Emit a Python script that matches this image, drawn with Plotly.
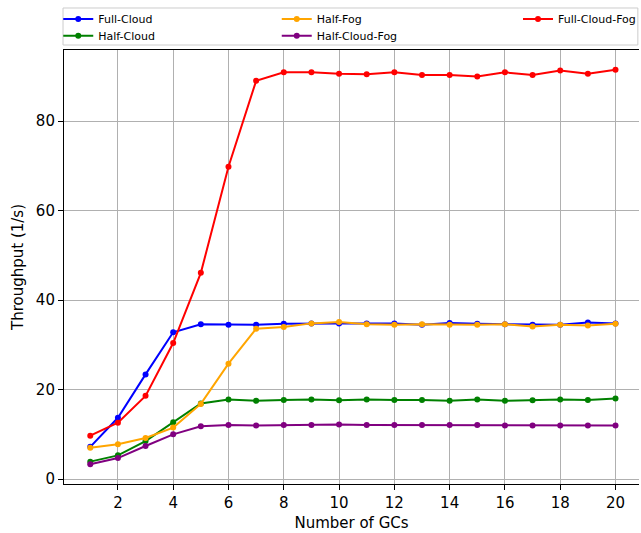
import plotly.graph_objects as go

# Number of GCs
gcs = list(range(1, 21))

full_cloud = [7.2, 13.7, 23.4, 32.8, 34.6, 34.5, 34.5, 34.7, 34.8, 34.8,
              34.8, 34.8, 34.5, 34.9, 34.7, 34.6, 34.5, 34.5, 35.0, 34.8]
half_cloud = [3.9, 5.3, 8.5, 12.7, 16.9, 17.8, 17.5, 17.7, 17.8, 17.6,
              17.8, 17.7, 17.7, 17.5, 17.8, 17.5, 17.6, 17.8, 17.7, 18.0]
half_fog = [7.0, 7.8, 9.2, 11.5, 16.8, 25.8, 33.6, 34.0, 34.8, 35.1,
            34.6, 34.5, 34.6, 34.5, 34.5, 34.6, 34.1, 34.5, 34.3, 34.7]
half_cloud_fog = [3.3, 4.7, 7.4, 10.0, 11.8, 12.1, 12.0, 12.1, 12.1, 12.2,
                  12.1, 12.1, 12.1, 12.1, 12.1, 12.0, 12.0, 12.0, 12.0, 12.0]
full_cloud_fog = [9.7, 12.6, 18.6, 30.4, 46.1, 69.8, 89.0, 90.9, 90.9, 90.6,
                  90.5, 90.9, 90.3, 90.3, 90.0, 90.9, 90.3, 91.3, 90.6, 91.5]

x_ticks = [2, 4, 6, 8, 10, 12, 14, 16, 18, 20]
y_ticks = [0, 20, 40, 60, 80]

# name, values, colour, legend id, (legend x, legend y) in paper coords
series = [
    ("Full-Cloud", full_cloud, "blue", "legend", (-0.01, 1.105)),
    ("Half-Cloud", half_cloud, "green", "legend2", (-0.01, 1.066)),
    ("Half-Fog", half_fog, "orange", "legend3", (0.37, 1.105)),
    ("Half-Cloud-Fog", half_cloud_fog, "purple", "legend4", (0.37, 1.066)),
    ("Full-Cloud-Fog", full_cloud_fog, "red", "legend5", (0.79, 1.105)),
]

FONT = "DejaVu Sans"

fig = go.Figure()
legends = {}
for name, vals, color, leg, (lx, ly) in series:
    fig.add_trace(go.Scatter(
        x=gcs, y=vals, name=name, mode="lines+markers",
        line=dict(color=color, width=2),
        marker=dict(color=color, size=6),
        legend=leg,
    ))
    legends[leg] = dict(
        x=lx, y=ly, orientation="v", xanchor="left", yanchor="top",
        bgcolor="rgba(0,0,0,0)", borderwidth=0,
        font=dict(family=FONT, size=11, color="black"),
        itemwidth=30,
    )

fig.update_layout(
    width=641, height=533,
    margin=dict(l=64, r=0, t=50, b=49),
    paper_bgcolor="white", plot_bgcolor="white",
    font=dict(family=FONT, size=15, color="black"),
    showlegend=True,
    xaxis=dict(
        range=[0.05, 20.85], tickvals=x_ticks,
        showgrid=True, gridcolor="#b0b0b0", gridwidth=1,
        showline=True, linecolor="black", linewidth=1.1, mirror=True,
        ticks="outside", ticklen=5, tickcolor="black",
        zeroline=False,
        title=dict(text="Number of GCs", font=dict(size=15), standoff=6),
        tickfont=dict(size=15),
    ),
    yaxis=dict(
        range=[-1.1, 95.9], tickvals=y_ticks,
        showgrid=True, gridcolor="#b0b0b0", gridwidth=1,
        showline=True, linecolor="black", linewidth=1.1,
        ticks="outside", ticklen=5, tickcolor="black",
        zeroline=False,
        title=dict(text="Throughput (1/s)", font=dict(size=15), standoff=8),
        tickfont=dict(size=15),
    ),
    shapes=[dict(
        type="rect", xref="paper", yref="paper",
        x0=-0.0017, x1=0.998, y0=1.0115, y1=1.0968,
        line=dict(color="#cccccc", width=1), fillcolor="rgba(255,255,255,0.8)",
        layer="below",
    )],
)
fig.update_layout(**legends)

fig.write_html("out.html")
